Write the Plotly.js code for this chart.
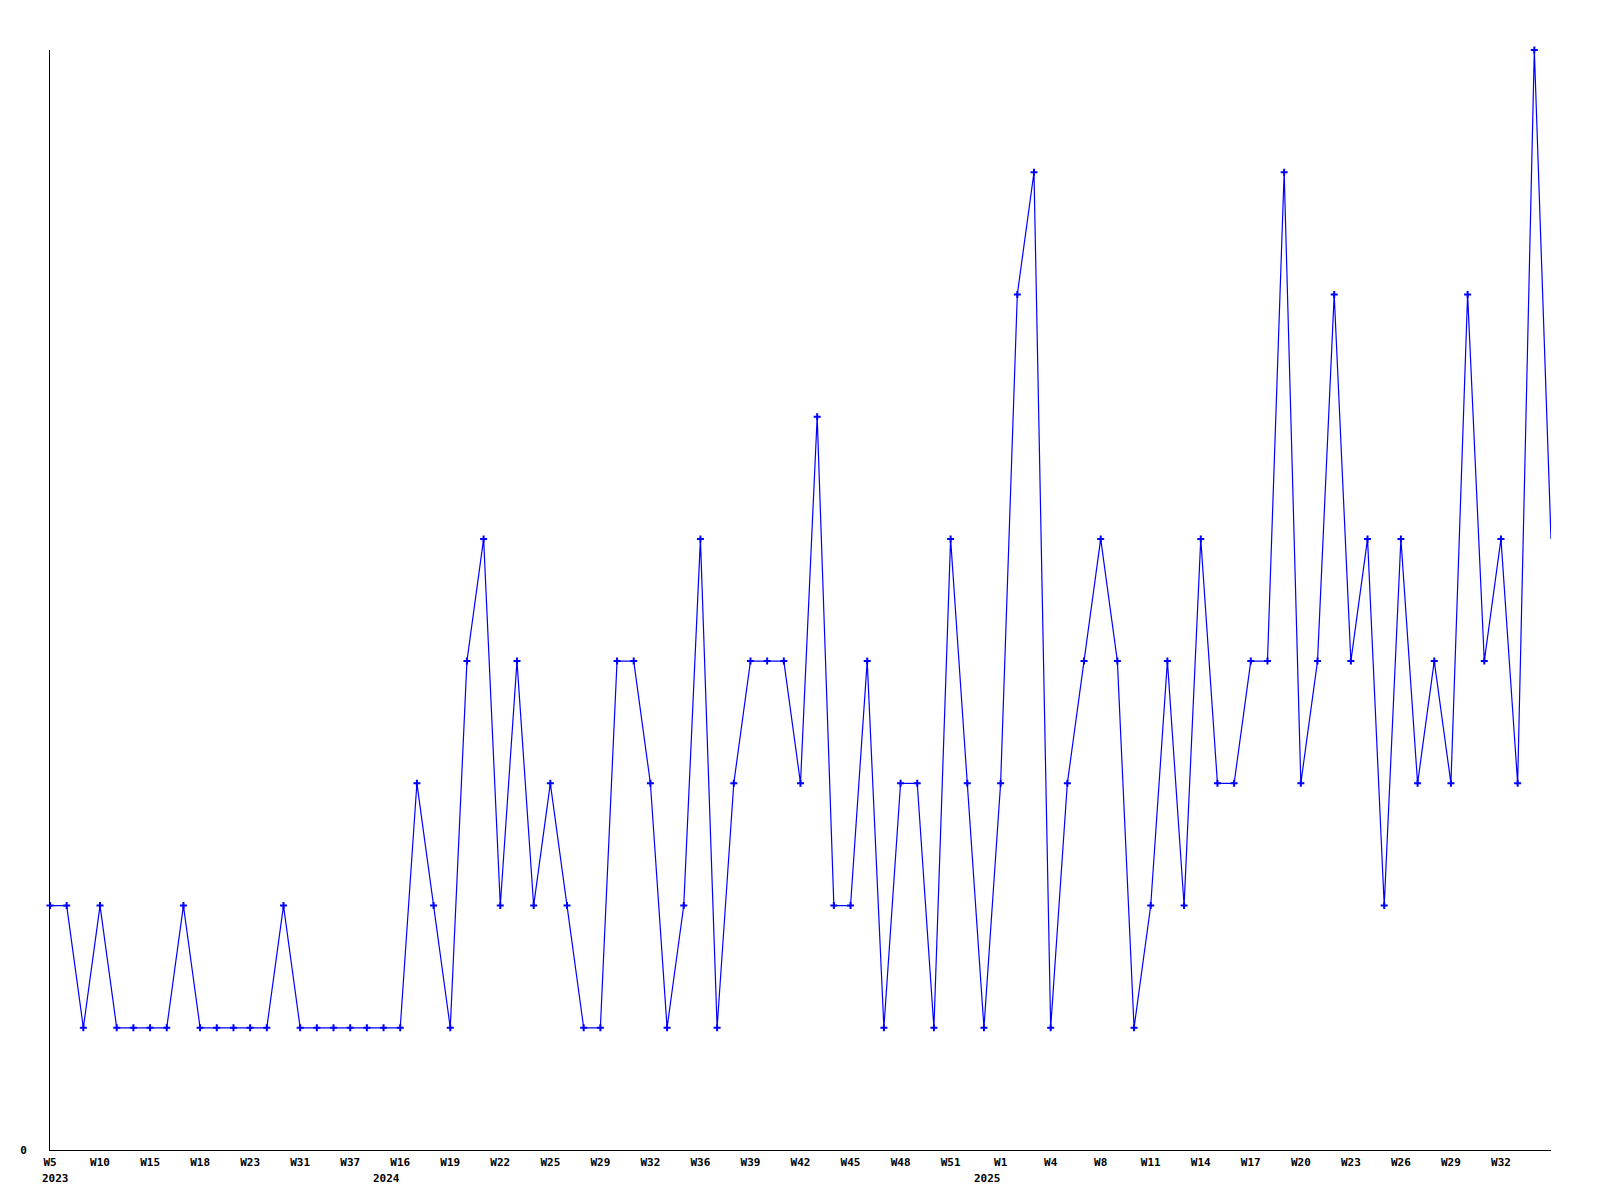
<!DOCTYPE html>
<html>
<head>
<meta charset="utf-8">
<script src="https://cdn.plot.ly/plotly-3.0.1.min.js"></script>
<style>
html,body{margin:0;padding:0;background:#fff;}
#chart{width:1600px;height:1200px;}
</style>
</head>
<body>
<div id="chart"></div>
<script>
// Week categories (year, week) in order
var years = [
  2023,2023,2023,2023,2023,2023,2023,2023,2023,2023,2023,2023,2023,2023,2023,2023,2023,2023,2023,2023,2023,
  2024,2024,2024,2024,2024,2024,2024,2024,2024,2024,2024,2024,2024,2024,2024,2024,2024,2024,2024,2024,
  2024,2024,2024,2024,2024,2024,2024,2024,2024,2024,2024,2024,2024,2024,2024,2024,
  2025,2025,2025,2025,2025,2025,2025,2025,2025,2025,2025,2025,2025,2025,2025,2025,2025,2025,2025,2025,
  2025,2025,2025,2025,2025,2025,2025,2025,2025,2025,2025,2025,2025,2025
];
var weeks = [
  5,6,8,10,12,13,15,16,17,18,20,21,23,26,28,31,33,35,37,40,44,
  16,17,18,19,20,21,22,23,24,25,27,28,29,30,31,32,34,35,36,37,
  38,39,40,41,42,43,44,45,46,47,48,49,50,51,52,53,
  1,2,3,4,6,7,8,9,10,11,12,13,14,15,16,17,18,19,20,21,
  22,23,24,25,26,27,28,29,30,31,32,33,34,35
];
var values = [
  2,2,1,2,1,1,1,1,2,1,1,1,1,1,2,1,1,1,1,1,1,
  1,3,2,1,4,5,2,4,2,3,2,1,1,4,4,3,1,2,5,1,
  3,4,4,4,3,6,2,2,4,1,3,3,1,5,3,1,
  3,7,8,1,3,4,5,4,1,2,4,2,5,3,3,4,4,8,3,4,
  7,4,5,2,5,3,4,3,7,4,5,3,9,5
];
var labelEvery = 3;

var categories = years.map(function(y,i){ return y + '-W' + weeks[i]; });
var tickvals = [], ticktext = [], annotations = [];
var seenYears = {};
var fontFam = '"DejaVu Sans Mono", "Liberation Mono", monospace';
var tickFont = {family: fontFam, size: 11, color: '#000000', weight: 'bold'};
for (var i = 0; i < categories.length - 1; i++) {
  if (i % labelEvery === 0) {
    tickvals.push(categories[i]);
    ticktext.push('W' + weeks[i]);
    if (!seenYears[years[i]]) {
      var first = annotations.length === 0;
      annotations.push({
        x: categories[i], xref: 'x', y: 0, yref: 'paper',
        yshift: -28, xshift: first ? -10 : 2,
        text: String(years[i]), showarrow: false,
        xanchor: first ? 'left' : 'right', yanchor: 'middle',
        font: tickFont
      });
      seenYears[years[i]] = true;
    }
  }
}
var markerOpacity = values.map(function(v,i){ return i === values.length - 1 ? 0 : 1; });

var trace = {
  x: categories,
  y: values,
  type: 'scatter',
  mode: 'lines+markers',
  line: {color: '#0000ff', width: 1.2},
  marker: {symbol: 'cross-thin', size: 5, color: '#0000ff', opacity: markerOpacity,
           line: {color: '#0000ff', width: 2}},
  cliponaxis: false,
  hoverinfo: 'x+y'
};

var layout = {
  width: 1600, height: 1200,
  margin: {l: 50, r: 49, t: 50, b: 50},
  paper_bgcolor: '#ffffff', plot_bgcolor: '#ffffff',
  showlegend: false,
  font: {family: fontFam, size: 11, color: '#000000', weight: 'bold'},
  annotations: annotations,
  xaxis: {
    type: 'category',
    categoryorder: 'array', categoryarray: categories,
    range: [0, categories.length - 1],
    showgrid: false, zeroline: false,
    showline: true, linecolor: '#000000', linewidth: 1,
    ticks: 'outside', ticklen: 2, tickcolor: 'rgba(0,0,0,0)',
    tickmode: 'array', tickvals: tickvals, ticktext: ticktext,
    tickangle: 0,
    tickfont: tickFont
  },
  yaxis: {
    range: [0, 9],
    showgrid: false, zeroline: false,
    showline: true, linecolor: '#000000', linewidth: 1,
    ticks: 'outside', ticklen: 20, tickcolor: 'rgba(0,0,0,0)',
    tickmode: 'array', tickvals: [0], ticktext: ['0'],
    tickfont: tickFont
  }
};

Plotly.newPlot('chart', [trace], layout, {displayModeBar: false, staticPlot: true});
</script>
</body>
</html>
